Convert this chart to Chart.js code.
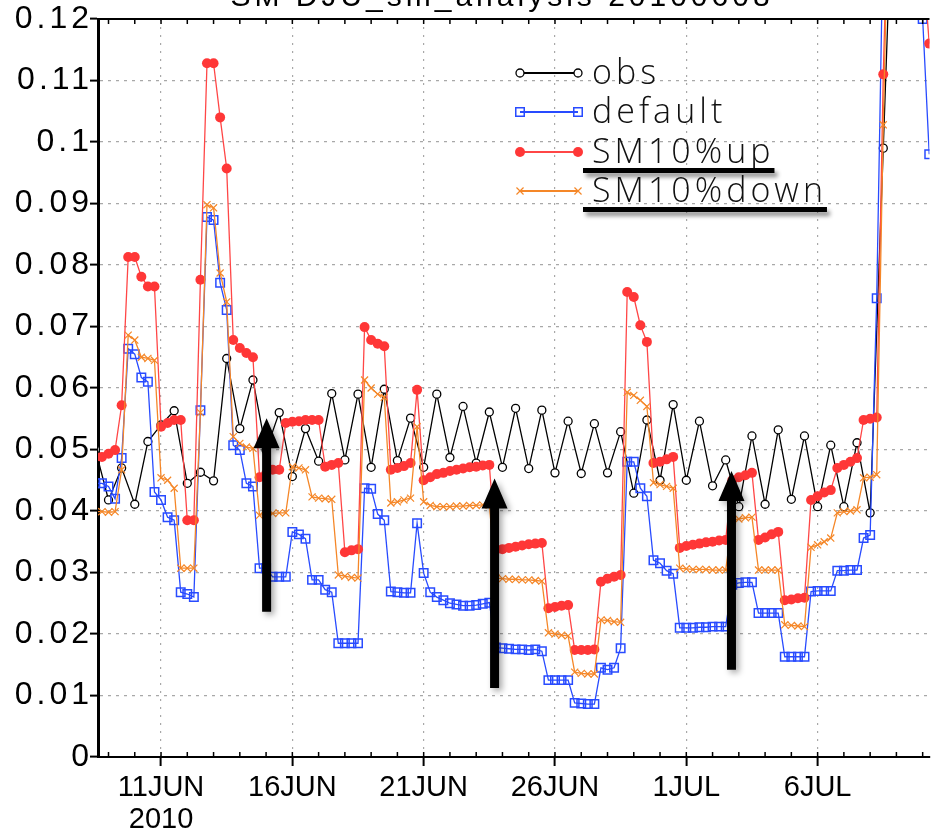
<!DOCTYPE html>
<html>
<head>
<meta charset="utf-8">
<title>SM DJU_sm_analysis 20100608</title>
<script src="https://cdn.jsdelivr.net/npm/chart.js@4.4.1/dist/chart.umd.min.js"></script>
<style>
  html, body { margin: 0; padding: 0; background: #fff; }
  #sm-chart { display: block; }
</style>
</head>
<body>
<canvas id="sm-chart" width="937" height="833"></canvas>
<script>
// time axis is in days of June 2010 (1JUL = 31)
var modelStartDay = 8.5;   // 6-hourly model output from 8JUN 12Z
var modelStepDay = 0.25;
var obsStartDay = 8.5;     // 12-hourly observations
var obsStepDay = 0.5;

var xTickDays = [11, 16, 21, 26, 31, 36];
var xTickLabels = [['11JUN', '2010'], '16JUN', '21JUN', '26JUN', '1JUL', '6JUL'];
var yTickValues = [0, 0.01, 0.02, 0.03, 0.04, 0.05, 0.06, 0.07, 0.08, 0.09, 0.1, 0.11, 0.12];
var yTickLabels = ['0', '0.01', '0.02', '0.03', '0.04', '0.05', '0.06', '0.07', '0.08', '0.09', '0.1', '0.11', '0.12'];

var obsSm = [
    0.0500,
    0.0418, 0.0470,  0.0411, 0.0513,  0.0540, 0.0563,  0.0445, 0.0463,  0.0449, 0.0648,
    0.0534, 0.0613,  0.0499, 0.0560,  0.0456, 0.0534,  0.0481, 0.0591,  0.0483, 0.0590,
    0.0471, 0.0598,  0.0482, 0.0551,  0.0471, 0.0590,  0.0487, 0.0570,  0.0478, 0.0561,
    0.0471, 0.0567,  0.0469, 0.0564,  0.0462, 0.0546,  0.0461, 0.0542,  0.0462, 0.0529,
    0.0429, 0.0548,  0.0450, 0.0573,  0.0450, 0.0546,  0.0441, 0.0483,  0.0407, 0.0522,
    0.0411, 0.0532,  0.0419, 0.0522,  0.0407, 0.0507,  0.0407, 0.0511,  0.0397, 0.0990,
    0.1600, 0.1700,
    0.1700
];

var defaultSm = [
    0.0445, 0.0445,
    0.0440, 0.0420, 0.0486, 0.0664,   // 9JUN
    0.0655, 0.0617, 0.0610, 0.0431,
    0.0418, 0.0390, 0.0385, 0.0268,
    0.0265, 0.0260, 0.0564, 0.0878,
    0.0873, 0.0771, 0.0727, 0.0507,
    0.0499, 0.0445, 0.0440, 0.0307,
    0.0307, 0.0293, 0.0293, 0.0293,
    0.0366, 0.0362, 0.0355, 0.0288,   // 16JUN
    0.0288, 0.0272, 0.0268, 0.0185,
    0.0185, 0.0185, 0.0185, 0.0437,
    0.0436, 0.0395, 0.0385, 0.0269,
    0.0268, 0.0267, 0.0267, 0.0380,
    0.0299, 0.0268, 0.0260, 0.0255,   // 21JUN
    0.0250, 0.0248, 0.0246, 0.0246,
    0.0247, 0.0249, 0.0251, 0.0178,
    0.0177, 0.0176, 0.0175, 0.0175,
    0.0174, 0.0175, 0.0172, 0.0125,
    0.0125, 0.0125, 0.0125, 0.0088,   // 26JUN
    0.0087, 0.0086, 0.0086, 0.0145,
    0.0142, 0.0145, 0.0177, 0.0480,
    0.0480, 0.0437, 0.0424, 0.0320,
    0.0315, 0.0303, 0.0298, 0.0210,
    0.0210, 0.0210, 0.0211, 0.0211,   // 1JUL
    0.0212, 0.0212, 0.0212, 0.0280,
    0.0283, 0.0284, 0.0284, 0.0234,
    0.0234, 0.0234, 0.0234, 0.0163,
    0.0163, 0.0163, 0.0163, 0.0269,
    0.0270, 0.0270, 0.0270, 0.0303,   // 6JUL
    0.0303, 0.0304, 0.0304, 0.0356,
    0.0361, 0.0746, 0.1350, 0.1600,
    0.1700, 0.1650, 0.1550, 0.1350,
    0.1200, 0.0980
];

var upSm = [
    0.0488, 0.0488,
    0.0493, 0.0499, 0.0572, 0.0813,   // 9JUN
    0.0813, 0.0781, 0.0765, 0.0765,
    0.0537, 0.0543, 0.0548, 0.0548,
    0.0385, 0.0385, 0.0776, 0.1128,
    0.1128, 0.1040, 0.0957, 0.0678,
    0.0665, 0.0657, 0.0650, 0.0455,
    0.0460, 0.0467, 0.0467, 0.0543,
    0.0545, 0.0546, 0.0548, 0.0548,   // 16JUN
    0.0548, 0.0472, 0.0475, 0.0478,
    0.0333, 0.0336, 0.0338, 0.0699,
    0.0678, 0.0672, 0.0668, 0.0467,
    0.0470, 0.0473, 0.0478, 0.0597,
    0.0450, 0.0455, 0.0460, 0.0462,   // 21JUN
    0.0465, 0.0467, 0.0469, 0.0471,
    0.0472, 0.0474, 0.0475, 0.0337,
    0.0338, 0.0340, 0.0342, 0.0344,
    0.0346, 0.0347, 0.0348, 0.0242,
    0.0244, 0.0246, 0.0247, 0.0174,   // 26JUN
    0.0174, 0.0174, 0.0175, 0.0285,
    0.0290, 0.0293, 0.0296, 0.0756,
    0.0748, 0.0702, 0.0675, 0.0478,
    0.0480, 0.0484, 0.0488, 0.0340,
    0.0343, 0.0345, 0.0347, 0.0349,   // 1JUL
    0.0350, 0.0352, 0.0353, 0.0450,
    0.0455, 0.0458, 0.0462, 0.0353,
    0.0357, 0.0362, 0.0366, 0.0255,
    0.0256, 0.0258, 0.0259, 0.0418,
    0.0424, 0.0430, 0.0434, 0.0470,   // 6JUL
    0.0475, 0.0480, 0.0486, 0.0548,
    0.0550, 0.0552, 0.1110, 0.1500,
    0.1700, 0.1700, 0.1600, 0.1450,
    0.1300, 0.1160
];

var downSm = [
    0.0399, 0.0399,
    0.0398, 0.0399, 0.0467, 0.0686,   // 9JUN
    0.0678, 0.0650, 0.0648, 0.0645,
    0.0454, 0.0450, 0.0437, 0.0307,
    0.0307, 0.0307, 0.0560, 0.0898,
    0.0893, 0.0787, 0.0740, 0.0521,
    0.0510, 0.0504, 0.0502, 0.0393,
    0.0395, 0.0396, 0.0397, 0.0397,
    0.0472, 0.0470, 0.0467, 0.0423,   // 16JUN
    0.0421, 0.0420, 0.0419, 0.0296,
    0.0294, 0.0292, 0.0291, 0.0613,
    0.0600, 0.0590, 0.0585, 0.0413,
    0.0415, 0.0418, 0.0421, 0.0537,
    0.0415, 0.0409, 0.0407, 0.0407,   // 21JUN
    0.0407, 0.0408, 0.0408, 0.0409,
    0.0409, 0.0410, 0.0410, 0.0291,
    0.0290, 0.0289, 0.0289, 0.0288,
    0.0288, 0.0287, 0.0286, 0.0202,
    0.0200, 0.0198, 0.0197, 0.0138,   // 26JUN
    0.0136, 0.0135, 0.0135, 0.0223,
    0.0222, 0.0220, 0.0219, 0.0593,
    0.0588, 0.0580, 0.0570, 0.0446,
    0.0443, 0.0440, 0.0437, 0.0307,
    0.0306, 0.0305, 0.0305, 0.0305,   // 1JUL
    0.0304, 0.0304, 0.0304, 0.0385,
    0.0387, 0.0389, 0.0390, 0.0304,
    0.0304, 0.0304, 0.0304, 0.0215,
    0.0214, 0.0213, 0.0212, 0.0341,
    0.0345, 0.0350, 0.0356, 0.0397,   // 6JUL
    0.0399, 0.0400, 0.0402, 0.0454,
    0.0455, 0.0459, 0.1028, 0.1500,
    0.1700, 0.1700, 0.1600, 0.1500,
    0.1400, 0.1250
];

var seriesNames = ['obs', 'default', 'SM10%up', 'SM10%down'];
var underlined = [false, false, true, true];

// annotation arrows: day, value at the foot, value at the tip
var arrowDays = [15.02, 23.70, 32.72];
var arrowBase = [0.0236, 0.0112, 0.0142];
var arrowTip = [0.0551, 0.0453, 0.0465];

var titleText = 'SM DJU_sm_analysis 20100608';

function toPoints(values, start, step) {
    return values.map(function (v, i) {
        return {x: start + i * step, y: v};
    });
}

var gradsFrame = {
    id: 'gradsFrame',
    beforeDraw: function (chart) {
        // a little extra spacing on the y tick labels, like the GrADS font
        var ys = chart.scales.y;
        if (!ys._spaced) {
            var orig = ys.drawLabels;
            ys.drawLabels = function (area) {
                this.ctx.save();
                this.ctx.letterSpacing = '4px';
                orig.call(this, area);
                this.ctx.restore();
            };
            ys._spaced = true;
        }
    },
    afterDatasetsDraw: function (chart) {
        var ctx = chart.ctx;
        var a = chart.chartArea;
        var xs = chart.scales.x;
        var ys = chart.scales.y;
        ctx.save();
        // top frame
        ctx.strokeStyle = '#000';
        ctx.lineWidth = 2;
        ctx.beginPath();
        ctx.moveTo(a.left, a.top);
        ctx.lineTo(a.right, a.top);
        ctx.stroke();
        // daily minor ticks, inward on bottom and top
        ctx.lineWidth = 1.5;
        for (var d = Math.ceil(xs.min); d <= xs.max; d++) {
            var px = xs.getPixelForValue(d);
            ctx.beginPath();
            ctx.moveTo(px, a.bottom);
            ctx.lineTo(px, a.bottom - 5);
            ctx.moveTo(px, a.top);
            ctx.lineTo(px, a.top + 5);
            ctx.stroke();
        }
        // arrows
        ctx.fillStyle = '#000';
        ctx.shadowColor = 'rgba(0,0,0,0.35)';
        ctx.shadowBlur = 6;
        ctx.shadowOffsetX = 3;
        ctx.shadowOffsetY = 3;
        for (var i = 0; i < arrowDays.length; i++) {
            var x = xs.getPixelForValue(arrowDays[i]);
            var yb = ys.getPixelForValue(arrowBase[i]);
            var yt = ys.getPixelForValue(arrowTip[i]);
            var sw = 4.5, hw = 13, hh = 30;
            ctx.beginPath();
            ctx.moveTo(x - sw, yb);
            ctx.lineTo(x - sw, yt + hh);
            ctx.lineTo(x - hw, yt + hh);
            ctx.lineTo(x, yt);
            ctx.lineTo(x + hw, yt + hh);
            ctx.lineTo(x + sw, yt + hh);
            ctx.lineTo(x + sw, yb);
            ctx.closePath();
            ctx.fill();
        }
        ctx.restore();
    },
    afterDraw: function (chart) {
        var ctx = chart.ctx;
        var rows = [73, 112, 152, 191];
        var x1 = 520, x2 = 578, tx = 592;
        ctx.save();
        chart.data.datasets.forEach(function (ds, i) {
            var y = rows[i];
            ctx.strokeStyle = ds.borderColor;
            ctx.lineWidth = 2;
            ctx.beginPath();
            ctx.moveTo(x1, y);
            ctx.lineTo(x2, y);
            ctx.stroke();
            [x1, x2].forEach(function (px) {
                ctx.fillStyle = ds.pointBackgroundColor;
                ctx.strokeStyle = ds.pointBorderColor;
                ctx.lineWidth = ds.pointBorderWidth;
                Chart.helpers.drawPoint(ctx, {
                    pointStyle: ds.pointStyle, radius: ds.pointRadius,
                    rotation: 0, borderWidth: ds.pointBorderWidth
                }, px, y);
            });
            ctx.font = '300 34px "Open Sans"';
            ctx.letterSpacing = '4px';
            ctx.fillStyle = '#111';
            ctx.textAlign = 'left';
            ctx.textBaseline = 'middle';
            ctx.fillText(ds.label, tx, y + 1);
            if (underlined[i]) {
                var w = ctx.measureText(ds.label).width;
                ctx.save();
                ctx.shadowColor = 'rgba(0,0,0,0.45)';
                ctx.shadowBlur = 4;
                ctx.shadowOffsetX = 3;
                ctx.shadowOffsetY = 4;
                ctx.fillStyle = '#000';
                ctx.fillRect(583, y + 16, tx + w - 583, 5);
                ctx.restore();
            }
        });
        // title, mostly above the picture
        ctx.font = '30px "Liberation Sans"';
        ctx.letterSpacing = '4px';
        ctx.fillStyle = '#000';
        ctx.textAlign = 'center';
        ctx.textBaseline = 'alphabetic';
        ctx.fillText(titleText, 502, 6);
        ctx.restore();
    }
};

var ctx = document.getElementById('sm-chart').getContext('2d');
var smChart = new Chart(ctx, {
    type: 'line',
    data: {
        datasets: [
            {
                label: seriesNames[0],
                data: toPoints(obsSm, obsStartDay, obsStepDay),
                borderColor: '#000',
                borderWidth: 1.3,
                pointStyle: 'circle',
                pointRadius: 4,
                pointBorderWidth: 1.3,
                pointBorderColor: '#000',
                pointBackgroundColor: '#fff',
                order: 4
            },
            {
                label: seriesNames[1],
                data: toPoints(defaultSm, modelStartDay, modelStepDay),
                borderColor: 'rgb(40,75,255)',
                borderWidth: 1.3,
                pointStyle: 'rect',
                pointRadius: 6,
                pointBorderWidth: 1.5,
                pointBorderColor: 'rgb(40,75,255)',
                pointBackgroundColor: 'rgba(255,255,255,0)',
                order: 3
            },
            {
                label: seriesNames[2],
                data: toPoints(upSm, modelStartDay, modelStepDay),
                borderColor: 'rgb(255,70,70)',
                borderWidth: 1.3,
                pointStyle: 'circle',
                pointRadius: 5,
                pointBorderWidth: 0,
                pointBorderColor: 'rgb(255,55,55)',
                pointBackgroundColor: 'rgb(255,55,55)',
                order: 2
            },
            {
                label: seriesNames[3],
                data: toPoints(downSm, modelStartDay, modelStepDay),
                borderColor: 'rgb(245,135,40)',
                borderWidth: 1.3,
                pointStyle: 'crossRot',
                pointRadius: 5,
                pointBorderWidth: 1.2,
                pointBorderColor: 'rgb(245,135,40)',
                pointBackgroundColor: 'rgb(245,135,40)',
                order: 1
            }
        ]
    },
    options: {
        responsive: false,
        animation: false,
        events: [],
        layout: {padding: {top: 19, right: 0, left: 0, bottom: 0}},
        plugins: {
            legend: {display: false},
            tooltip: {enabled: false},
            title: {display: false}
        },
        scales: {
            x: {
                type: 'linear',
                min: 8.6,
                max: 40.26,
                afterBuildTicks: function (scale) {
                    scale.ticks = xTickDays.map(function (d) { return {value: d}; });
                },
                afterFit: function (scale) { scale.height = 76; },
                ticks: {
                    autoSkip: false,
                    maxRotation: 0,
                    padding: 6,
                    color: '#000',
                    font: {family: 'Liberation Sans', size: 29, lineHeight: 1.1},
                    callback: function (value) {
                        var i = xTickDays.indexOf(value);
                        return i >= 0 ? xTickLabels[i] : '';
                    }
                },
                grid: {
                    color: '#a8a8a8',
                    lineWidth: 1.2,
                    drawTicks: true,
                    tickLength: 9,
                    tickColor: '#000',
                    tickWidth: 2
                },
                border: {color: '#000', width: 2, dash: [2, 6]}
            },
            y: {
                min: 0,
                max: 0.12,
                afterBuildTicks: function (scale) {
                    scale.ticks = yTickValues.map(function (v) { return {value: v}; });
                },
                afterFit: function (scale) { scale.width = 98; },
                ticks: {
                    padding: -3,
                    color: '#000',
                    font: {family: 'Liberation Sans', size: 32},
                    callback: function (value, index) { return yTickLabels[index]; }
                },
                grid: {
                    color: '#a8a8a8',
                    lineWidth: 1.2,
                    drawTicks: true,
                    tickLength: 8,
                    tickColor: '#000',
                    tickWidth: 2
                },
                border: {color: '#000', width: 3, dash: [3, 5]}
            }
        }
    },
    plugins: [gradsFrame]
});
</script>
</body>
</html>
